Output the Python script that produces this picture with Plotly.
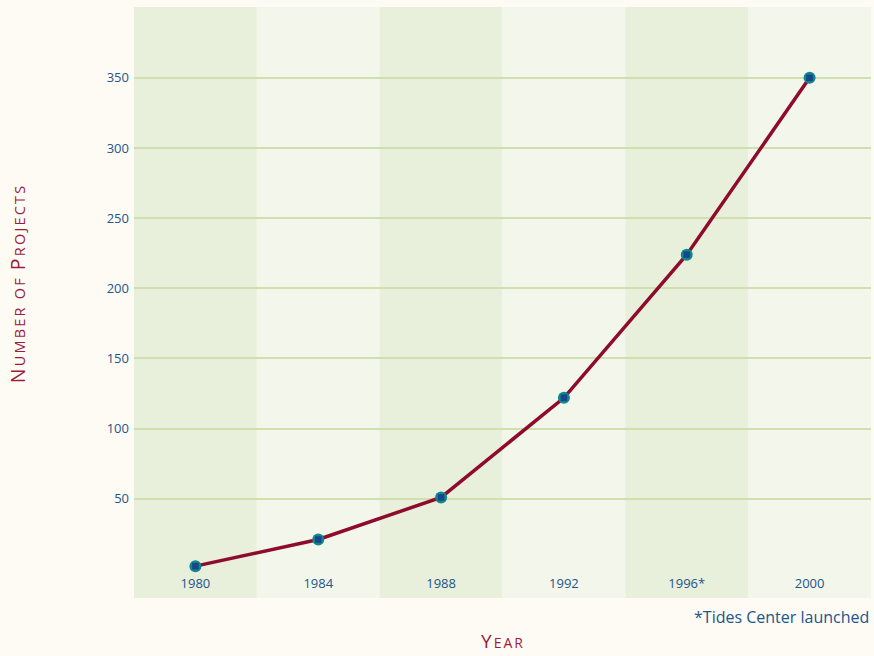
import plotly.graph_objects as go

years = ["1980", "1984", "1988", "1992", "1996", "2000"]
year_labels = ["1980", "1984", "1988", "1992", "1996*", "2000"]
projects = [2, 21, 51, 122, 224, 350]
y_ticks = [50, 100, 150, 200, 250, 300, 350]

band_dark = "#E8F0DB"
band_light = "#F3F6EA"
paper = "#FDFBF3"
line_col = "#8E0B2E"
tick_col = "#22558C"
title_col = "#9A1B3C"
grid_col = "#CFDFAE"
FONT = "Open Sans"

fig = go.Figure()

xs = list(range(len(years)))

fig.add_trace(go.Scatter(
    x=xs, y=projects, mode="lines",
    line=dict(color=line_col, width=3.5),
    hoverinfo="skip", showlegend=False))
fig.add_trace(go.Scatter(
    x=xs, y=projects, mode="markers",
    marker=dict(symbol="circle", size=12, color="#0F878C", line=dict(width=0)),
    showlegend=False))
fig.add_trace(go.Scatter(
    x=xs, y=projects, mode="markers",
    marker=dict(symbol="square", size=6.5, color="#17468C", line=dict(width=0)),
    showlegend=False))

for i in range(len(years)):
    fig.add_shape(type="rect", xref="x", yref="paper",
                  x0=i - 0.5, x1=i + 0.5, y0=0, y1=1,
                  fillcolor=band_dark if i % 2 == 0 else band_light,
                  line=dict(width=0), layer="below")

fig.update_xaxes(
    range=[-0.5, 5.5], tickmode="array", tickvals=xs, ticktext=year_labels,
    ticklabelposition="inside", ticks="", showgrid=False, zeroline=False,
    showline=False, tickfont=dict(family=FONT, size=13, color=tick_col),
    ticklabelstandoff=4, fixedrange=True)
fig.update_yaxes(
    range=[-20.7, 400.5], tickmode="array", tickvals=y_ticks,
    ticktext=[str(v) for v in y_ticks], showgrid=True, gridcolor=grid_col,
    gridwidth=1.5, zeroline=False, showline=False, ticks="",
    tickfont=dict(family=FONT, size=13, color=tick_col), ticklabelstandoff=4)

fig.add_annotation(
    xref="paper", yref="paper", x=1.0, y=-0.032, xanchor="right", yanchor="middle",
    text="*Tides Center launched", showarrow=False,
    font=dict(family=FONT, size=16, color=tick_col))
fig.add_annotation(
    xref="paper", yref="paper", x=0.5, y=-0.073, xanchor="center", yanchor="middle",
    text="<span style='letter-spacing:2px'>Y<span style='font-size:14px'>EAR</span></span>",
    showarrow=False,
    font=dict(family=FONT, size=19, color=title_col))
fig.add_annotation(
    xref="paper", yref="paper", x=-0.158, y=0.532, xanchor="center", yanchor="middle",
    textangle=-90,
    text="<span style='letter-spacing:2.2px'>N<span style='font-size:14.5px'>UMBER OF </span>P<span style='font-size:14.5px'>ROJECTS</span></span>",
    showarrow=False, font=dict(family=FONT, size=19.5, color=title_col))

fig.update_layout(
    width=874, height=656,
    margin=dict(l=134, r=3, t=7, b=58),
    paper_bgcolor=paper, plot_bgcolor=paper,
    font=dict(family=FONT),
    showlegend=False)

fig.write_html("out.html", config={"displayModeBar": False},
               post_script="document.body.style.margin='0';")
